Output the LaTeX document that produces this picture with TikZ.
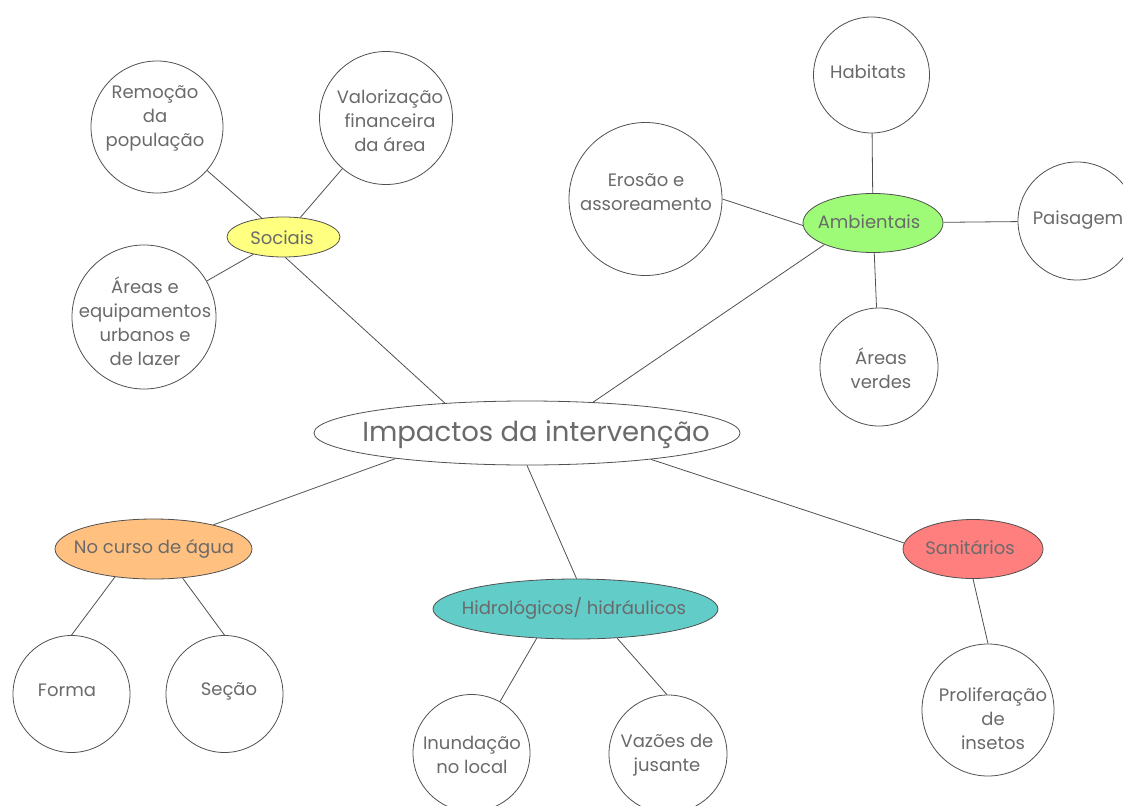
\documentclass[tikz,border=0pt]{standalone}
\usepackage{fontspec}
\setmainfont{Poppins}
\usetikzlibrary{shapes.geometric}
\definecolor{edgec}{HTML}{505050}
\definecolor{txtc}{HTML}{6A6A6A}
\definecolor{socfill}{HTML}{FFFF80}
\definecolor{ambfill}{HTML}{9EFB78}
\definecolor{nocfill}{HTML}{FFC080}
\definecolor{hidfill}{HTML}{62CCC9}
\definecolor{sanfill}{HTML}{FF7E7E}
\tikzset{
  edge/.style={draw=edgec, line width=0.8pt},
  circ/.style={circle, draw=edgec, line width=0.8pt, fill=white, inner sep=0pt},
  ell/.style={ellipse, draw=edgec, line width=0.8pt, inner sep=0pt},
  txt/.style={text=txtc, align=center, inner sep=0pt, font=\fontsize{18}{24}\selectfont},
}
\begin{document}
\begin{tikzpicture}[x=1pt,y=-1pt]
\useasboundingbox (0,0) rectangle (1123,805);
% central
\node[ell, fill=white, minimum width=426pt, minimum height=64pt] (imp) at (527,433) {};
\node[txt, font=\fontsize{27.5}{32}\selectfont] (impt) at (536,435) {Impactos da intervenção};
% category ellipses
\node[ell, fill=socfill, minimum width=113pt, minimum height=40pt] (soc) at (283.5,237) {};
\node[ell, fill=ambfill, minimum width=140pt, minimum height=59pt] (amb) at (873,223) {};
\node[ell, fill=nocfill, minimum width=197pt, minimum height=60pt] (noc) at (153.5,549) {};
\node[ell, fill=hidfill, minimum width=285pt, minimum height=60pt] (hid) at (575.5,609) {};
\node[ell, fill=sanfill, minimum width=140pt, minimum height=59pt] (san) at (973,549) {};
\node[txt] (soct) at (282,238) {Sociais};
\node[txt] (ambt) at (869,222) {Ambientais};
\node[txt] (noct) at (154,549) {No curso de água};
\node[txt] (hidt) at (574,608) {Hidrológicos/ hidráulicos};
\node[txt] (sant) at (970,548) {Sanitários};
% leaf circles
\node[circ, minimum size=132pt] (rem) at (157,127) {};
\node[circ, minimum size=133pt] (val) at (386,118) {};
\node[circ, minimum size=144pt] (are) at (144,317) {};
\node[circ, minimum size=116pt] (hab) at (871.5,75) {};
\node[circ, minimum size=153pt] (ero) at (645.5,199) {};
\node[circ, minimum size=118pt] (pai) at (1077,221) {};
\node[circ, minimum size=118pt] (ver) at (879,367) {};
\node[circ, minimum size=117pt] (for) at (71.5,694) {};
\node[circ, minimum size=117pt] (sec) at (224.5,694) {};
\node[circ, minimum size=117pt] (inu) at (471.5,753) {};
\node[circ, minimum size=118pt] (vaz) at (668,754) {};
\node[circ, minimum size=132pt] (pro) at (988,710) {};
% leaf texts
\node[txt] (remt) at (155,118) {Remoção\\da\\população};
\node[txt] (valt) at (390,121) {Valorização\\financeira\\da área};
\node[txt] (aret) at (145,321) {Áreas e\\equipamentos\\urbanos e\\de lazer};
\node[txt] (habt) at (868,72) {Habitats};
\node[txt] (erot) at (646,192) {Erosão e\\assoreamento};
\node[txt] (pait) at (1078,220) {Paisagem};
\node[txt] (vert) at (881,368) {Áreas\\verdes};
\node[txt] (fort) at (67,690) {Forma};
\node[txt] (sect) at (229,691) {Seção};
\node[txt] (inut) at (472,755) {Inundação\\no local};
\node[txt] (vazt) at (667,755) {Vazões de\\jusante};
\node[txt] (prot) at (993,719) {Proliferação\\de\\insetos};
% connectors from centre
\draw[edge] (imp.160) -- (soc.275);
\draw[edge] (imp.25) -- (amb.204);
\draw[edge] (imp.191) -- (noc.22);
\draw[edge] (imp.270) -- (hid.88);
\draw[edge] (imp.348) -- (san.175);
% sociais
\draw[edge] (soc) -- (rem);
\draw[edge] (soc) -- (val);
\draw[edge] (soc) -- (are);
% ambientais
\draw[edge] (amb) -- (hab);
\draw[edge] (amb.182) -- (ero.0);
\draw[edge] (amb) -- (pai);
\draw[edge] (amb) -- (ver);
% no curso
\draw[edge] (noc.216) -- (for.90);
\draw[edge] (noc.315) -- (sec.90);
% hidro
\draw[edge] (hid.217) -- (inu.61);
\draw[edge] (hid.325) -- (vaz.91);
% sanitarios
\draw[edge] (san.270) -- (pro.90);
\end{tikzpicture}
\end{document}
